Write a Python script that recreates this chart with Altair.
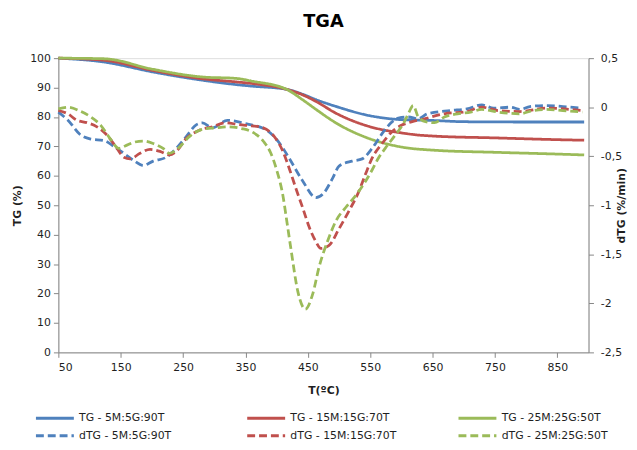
import altair as alt
import pandas as pd

FONT = "DejaVu Sans"

series_names = ["TG - 5M:5G:90T", "TG - 15M:15G:70T", "TG - 25M:25G:50T",
                "dTG - 5M:5G:90T", "dTG - 15M:15G:70T", "dTG - 25M:25G:50T"]
series_colors = ["#4F81BD", "#C0504D", "#9BBB59", "#4F81BD", "#C0504D", "#9BBB59"]
series_dash = [[1, 0], [1, 0], [1, 0], [8, 4], [8, 4], [8, 4]]

x_ticks = [50, 150, 250, 350, 450, 550, 650, 750, 850]
tg_ticks = [0, 10, 20, 30, 40, 50, 60, 70, 80, 90, 100]
dtg_ticks = [-2.5, -2, -1.5, -1, -0.5, 0, 0.5]

# TG curves (left axis, %)
tg1_T = [50, 123, 202, 281, 336, 360, 416, 442, 463, 495, 548, 600, 653, 700, 800, 893]
tg1_v = [100, 98.7, 95.3, 92.5, 91.0, 90.5, 89.4, 87.7, 85.9, 83.6, 80.5, 79.1, 78.8, 78.4, 78.3, 78.3]

tg2_T = [50, 123, 202, 281, 336, 360, 416, 442, 463, 495, 548, 600, 621, 653, 750, 850, 893]
tg2_v = [100, 99.3, 95.8, 93.0, 91.9, 91.4, 89.4, 87.5, 85.3, 81.3, 76.8, 74.6, 74.0, 73.5, 72.9, 72.3, 72.1]

tg3_T = [50, 123, 202, 281, 336, 360, 416, 442, 463, 495, 548, 600, 653, 750, 850, 893]
tg3_v = [100, 99.8, 96.2, 93.6, 93.1, 92.2, 89.4, 85.8, 82.6, 78.0, 72.7, 69.8, 68.7, 68.0, 67.4, 67.1]

# dTG curves (right axis, %/min)
dtg1_T = [50, 65, 86, 102, 123, 139, 155, 170, 186, 202, 223, 239, 255, 271, 281, 297,
          321, 352, 384, 405, 420, 442, 463, 475, 490, 500, 521, 537, 553, 569, 585, 595,
          611, 627, 642, 679, 705, 729, 748, 775, 790, 806, 832, 859, 890]
dtg1_v = [-0.05, -0.13, -0.285, -0.325, -0.34, -0.40, -0.47, -0.54, -0.594, -0.55, -0.51, -0.42,
          -0.30, -0.18, -0.16, -0.21, -0.134, -0.17, -0.235, -0.37, -0.52, -0.755, -0.923, -0.88,
          -0.72, -0.60, -0.55, -0.527, -0.42, -0.27, -0.15, -0.11, -0.10, -0.118, -0.067, -0.034,
          -0.017, 0.023, -0.01, 0.0, -0.023, 0.007, 0.017, 0.007, -0.01]

dtg2_T = [50, 65, 80, 96, 112, 128, 144, 155, 165, 181, 197, 213, 228, 239, 255, 276, 297,
          318, 339, 360, 373, 395, 410, 421, 432, 442, 452, 462, 471, 484, 500, 516, 532, 542,
          553, 569, 585, 600, 616, 637, 669, 705, 729, 755, 790, 832, 890]
dtg2_v = [-0.034, -0.067, -0.134, -0.158, -0.2, -0.285, -0.42, -0.51, -0.527, -0.47, -0.43,
          -0.45, -0.487, -0.45, -0.32, -0.235, -0.20, -0.158, -0.178, -0.19, -0.20, -0.29,
          -0.45, -0.64, -0.85, -1.03, -1.22, -1.36, -1.44, -1.41, -1.24, -1.057, -0.856, -0.69,
          -0.52, -0.37, -0.25, -0.185, -0.15, -0.118, -0.067, -0.044, 0.0, -0.034, -0.044,
          -0.01, -0.034]

dtg3_T = [50, 65, 86, 102, 118, 133, 147, 157, 170, 186, 202, 218, 228, 242, 260, 281, 302,
          323, 344, 360, 379, 390, 400, 410, 416, 423, 434, 446, 458, 468, 482, 495, 511, 526,
          542, 553, 563, 574, 590, 603, 611, 619, 627, 640, 653, 669, 690, 711, 729, 755, 790,
          811, 832, 859, 890]
dtg3_v = [-0.017, 0.0, -0.043, -0.10, -0.185, -0.32, -0.42, -0.396, -0.36, -0.345, -0.37,
          -0.42, -0.47, -0.42, -0.30, -0.225, -0.21, -0.20, -0.218, -0.25, -0.35, -0.46, -0.64,
          -0.9, -1.15, -1.45, -1.88, -2.06, -1.9, -1.63, -1.36, -1.16, -1.02, -0.906, -0.76,
          -0.64, -0.52, -0.42, -0.285, -0.168, -0.067, 0.017, -0.10, -0.15, -0.158, -0.10,
          -0.067, -0.05, -0.023, -0.05, -0.067, -0.034, -0.023, -0.034, -0.05]


def frame(Ts, vs, name):
    return pd.DataFrame({"T": Ts, "v": vs, "series": name})


tg_df = pd.concat([frame(tg1_T, tg1_v, series_names[0]),
                   frame(tg2_T, tg2_v, series_names[1]),
                   frame(tg3_T, tg3_v, series_names[2])])
dtg_df = pd.concat([frame(dtg1_T, dtg1_v, series_names[3]),
                    frame(dtg2_T, dtg2_v, series_names[4]),
                    frame(dtg3_T, dtg3_v, series_names[5])])

AX = "#868686"
LBL = "#1f1f1f"

x_enc = alt.X("T:Q", scale=alt.Scale(domain=[50, 900], nice=False, zero=False),
              axis=alt.Axis(values=x_ticks, title="T(ºC)", grid=False, tickSize=5,
                            domainColor=AX, tickColor=AX, labelColor=LBL,
                            labelFont=FONT, labelFontSize=11, labelPadding=4,
                            titleFont=FONT, titleFontSize=11, titleFontWeight="bold",
                            titleColor=LBL, titleY=39, titleBaseline="middle"))

legend = alt.Legend(title=None, orient="none", legendX=-11, legendY=357, columns=3,
                    direction="horizontal",
                    symbolType="M-3.2,0H3.2", symbolSize=144, symbolStrokeWidth=3,
                    labelFont=FONT, labelFontSize=11, labelColor=LBL, labelOffset=17,
                    columnPadding=56, rowPadding=4, gridAlign="all", padding=0,
                    labelLimit=300)

color_enc = alt.Color("series:N", scale=alt.Scale(domain=series_names, range=series_colors),
                      legend=legend)
dash_enc = alt.StrokeDash("series:N", scale=alt.Scale(domain=series_names, range=series_dash),
                          legend=legend)

tg_layer = alt.Chart(tg_df).mark_line(strokeWidth=2.8, interpolate="monotone").encode(
    x=x_enc,
    y=alt.Y("v:Q", scale=alt.Scale(domain=[0, 100], nice=False),
            axis=alt.Axis(values=tg_ticks, title="TG (%)", grid=False, tickSize=5,
                          domainColor=AX, tickColor=AX, labelColor=LBL,
                          labelFont=FONT, labelFontSize=11, labelPadding=3,
                          titleFont=FONT, titleFontSize=11, titleFontWeight="bold",
                          titleColor=LBL, titleX=-41, titleY=149, titleAngle=270,
                          titleBaseline="middle", titleAlign="center")),
    color=color_enc,
    strokeDash=dash_enc,
    detail="series:N",
)

dtg_layer = alt.Chart(dtg_df).mark_line(strokeWidth=2.8, interpolate="monotone").encode(
    x=x_enc,
    y=alt.Y("v:Q", scale=alt.Scale(domain=[-2.5, 0.5], nice=False, zero=False),
            axis=alt.Axis(values=dtg_ticks, orient="right", title="dTG (%/min)", grid=False,
                          tickSize=5, domainColor=AX, tickColor=AX, labelColor=LBL,
                          labelFont=FONT, labelFontSize=11, labelPadding=7,
                          labelExpr="replace(toString(datum.value), '.', ',')",
                          titleFont=FONT, titleFontSize=11, titleFontWeight="bold",
                          titleColor=LBL, titleX=33, titleY=149, titleAngle=270,
                          titleBaseline="middle", titleAlign="center")),
    color=color_enc,
    strokeDash=dash_enc,
    detail="series:N",
)

chart = alt.layer(tg_layer, dtg_layer).resolve_scale(y="independent").properties(
    width=537, height=298,
    title=alt.TitleParams(text="TGA", font=FONT, fontSize=18, fontWeight="bold",
                          color="#000000", anchor="middle", frame="group", offset=22),
    autosize=alt.AutoSizeParams(type="none"),
    padding={"left": 51, "top": 48, "right": 41, "bottom": 90},
).configure_view(stroke=None).configure(background="white")

chart.save("out.html", embed_options={"renderer": "svg", "actions": False})
